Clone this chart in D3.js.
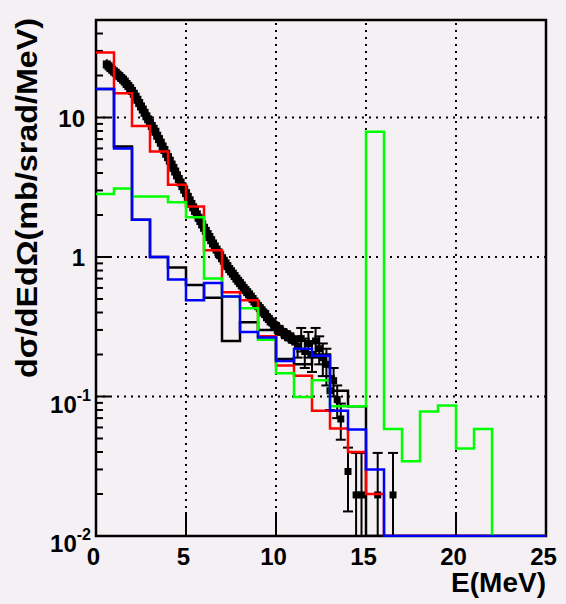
<!DOCTYPE html>
<html>
<head>
<meta charset="utf-8">
<script src="https://cdn.jsdelivr.net/npm/d3@7"></script>
<style>
  html, body { margin: 0; padding: 0; background: #f4f0f4; }
  svg { display: block; }
  text { font-family: "Liberation Sans", Arial, Helvetica, sans-serif; font-weight: bold; fill: #000; }
</style>
</head>
<body>
<svg id="chart" width="566" height="604"></svg>
<script>
// Histogram bin edges: 0..25 MeV in 1 MeV bins
const binEdges = d3.range(0, 26, 1);

// Model histograms, one value per 1 MeV bin (0 = empty bin)
const histBlack = [16.0, 6.2, 1.85, 1.0, 0.84, 0.63, 0.51, 0.25, 0.34, 0.30, 0.186, 0.17, 0.20, 0.11, 0.085, 0, 0, 0, 0, 0, 0, 0, 0, 0, 0];
const histRed   = [29.3, 14.9, 8.7, 5.7, 3.3, 2.3, 1.12, 0.56, 0.49, 0.27, 0.167, 0.141, 0.079, 0.059, 0.040, 0.020, 0, 0, 0, 0, 0, 0, 0, 0, 0];
const histGreen = [2.83, 3.1, 2.72, 2.72, 2.47, 1.93, 0.70, 0.52, 0.43, 0.255, 0.147, 0.099, 0.131, 0.085, 0.085, 7.9, 0.0586, 0.0343, 0.078, 0.0863, 0.0424, 0.0586, 0, 0, 0];
const histBlue  = [16.0, 6.0, 1.85, 1.0, 0.69, 0.49, 0.65, 0.52, 0.29, 0.265, 0.18, 0.22, 0.196, 0.079, 0.058, 0.030, 0, 0, 0, 0, 0, 0, 0, 0, 0];

// Measured spectrum: dense part (energy, cross section), relative error
const denseE = [0.6,0.7,0.8,0.9,1.0,1.1,1.2,1.3,1.4,1.5,1.6,1.7,1.8,1.9,2.0,2.1,2.2,2.3,2.4,2.5,2.6,2.7,2.8,2.9,3.0,3.1,3.2,3.3,3.4,3.5,3.6,3.7,3.8,3.9,4.0,4.1,4.2,4.3,4.4,4.5,4.6,4.7,4.8,4.9,5.0,5.1,5.2,5.3,5.4,5.5,5.6,5.7,5.8,5.9,6.0,6.1,6.2,6.3,6.4,6.5,6.6,6.7,6.8,6.9,7.0,7.1,7.2,7.3,7.4,7.5,7.6,7.7,7.8,7.9,8.0,8.1,8.2,8.3,8.4,8.5,8.6,8.7,8.8,8.9,9.0,9.1,9.2,9.3,9.4,9.5,9.6,9.7,9.8,9.9,10.0,10.1,10.2,10.3,10.4,10.5,10.6,10.7,10.8,10.9,11.0];
const denseV = [24.0,23.3,22.6,22.0,21.4,20.9,20.3,19.8,19.2,18.7,18.1,17.4,16.8,16.2,15.5,14.8,14.1,13.4,12.7,12.0,11.4,10.8,10.2,9.7,9.2,8.7,8.3,7.9,7.4,7.0,6.6,6.2,5.85,5.5,5.2,4.9,4.6,4.35,4.1,3.85,3.62,3.42,3.22,3.04,2.87,2.7,2.55,2.4,2.27,2.14,2.02,1.91,1.81,1.71,1.62,1.54,1.46,1.39,1.32,1.25,1.19,1.13,1.08,1.03,0.98,0.94,0.90,0.86,0.82,0.79,0.76,0.73,0.70,0.675,0.65,0.625,0.60,0.58,0.56,0.54,0.52,0.50,0.48,0.46,0.445,0.43,0.415,0.40,0.39,0.37,0.36,0.345,0.34,0.325,0.32,0.30,0.305,0.29,0.29,0.275,0.28,0.265,0.27,0.255,0.255];
const denseRelErr = 0.09;
const denseEErr = 0.2;

// Measured spectrum: high-energy tail with individual errors
const tailE    = [11.2, 11.4, 11.6, 11.8, 12.0, 12.2, 12.4, 12.6, 12.8, 13.0, 13.2, 13.4, 13.6, 14.0, 14.45, 14.75, 15.65, 16.5];
const tailV    = [0.23, 0.26, 0.21, 0.24, 0.20, 0.25, 0.22, 0.19, 0.17, 0.11, 0.13, 0.095, 0.069, 0.029, 0.0197, 0.0197, 0.0197, 0.0197];
const tailErr  = [0.04, 0.05, 0.05, 0.05, 0.05, 0.06, 0.05, 0.05, 0.05, 0.03, 0.03, 0.025, 0.02, 0.014, 0.0197, 0.0197, 0.0197, 0.0197];
const tailEErr = 0.15;

// Axis ticks
const xTicks = [0, 5, 10, 15, 20, 25];
const yMajor = [0.01, 0.1, 1, 10];
const yLabels = [["10", "-2"], ["10", "-1"], ["1", ""], ["10", ""]];

const svg = d3.select("#chart");
const W = 566, H = 604;
const L = 96, R = 546, T = 20, B = 536;

svg.append("rect").attr("width", W).attr("height", H).attr("fill", "#f4f0f4");

const x = d3.scaleLinear().domain([0, 25]).range([L, R]);
const y = d3.scaleLog().domain([0.01, 50]).range([B, T]);
const yc = v => (v > 0.01 ? Math.max(T, y(v)) : B);

// Dotted grid at major ticks
const grid = svg.append("g").attr("stroke", "#000").attr("stroke-width", 2)
  .attr("stroke-dasharray", "2,5").attr("fill", "none");
[5, 10, 15, 20].forEach(v => grid.append("line")
  .attr("x1", x(v)).attr("x2", x(v)).attr("y1", B).attr("y2", T));
[0.1, 1, 10].forEach(v => grid.append("line")
  .attr("x1", L).attr("x2", R).attr("y1", y(v)).attr("y2", y(v)));

// Y axis ticks (inside frame): major + minor per decade
const yt = svg.append("g").attr("stroke", "#000").attr("stroke-width", 2);
const minorVals = [];
[0.01, 0.1, 1, 10].forEach(d => { for (let k = 2; k <= 9; k++) { const v = d * k; if (v <= 50) minorVals.push(v); } });
minorVals.forEach(v => yt.append("line").attr("x1", L).attr("x2", L + 7).attr("y1", y(v)).attr("y2", y(v)));
yMajor.forEach(v => yt.append("line").attr("x1", L).attr("x2", L + 14).attr("y1", y(v)).attr("y2", y(v)));

// X axis ticks
const xt = svg.append("g").attr("stroke", "#000").attr("stroke-width", 2);
[5, 10, 15, 20].forEach(v => xt.append("line").attr("x1", x(v)).attr("x2", x(v)).attr("y1", B).attr("y2", B - 24));

// Frame
svg.append("rect").attr("x", L).attr("y", T).attr("width", R - L).attr("height", B - T)
  .attr("fill", "none").attr("stroke", "#000").attr("stroke-width", 2.5);

// Clip for data
svg.append("clipPath").attr("id", "plotclip").append("rect")
  .attr("x", L - 1).attr("y", T).attr("width", R - L + 2).attr("height", B - T + 1);
const plot = svg.append("g").attr("clip-path", "url(#plotclip)");

// Data points with error bars
const pts = plot.append("g");
function drawPoint(e, v, dvUp, dvDown, de, caps, size) {
  const cx = x(e), cy = y(v);
  const yTop = yc(v + dvUp);
  const yBot = yc(v - dvDown);
  const g = pts.append("g").attr("stroke", "#000").attr("stroke-width", 2);
  g.append("line").attr("x1", cx).attr("x2", cx).attr("y1", yTop).attr("y2", yBot);
  if (caps) {
    g.append("line").attr("x1", cx - 5).attr("x2", cx + 5).attr("y1", yTop).attr("y2", yTop);
    g.append("line").attr("x1", cx - 5).attr("x2", cx + 5).attr("y1", yBot).attr("y2", yBot);
  }
  if (de > 0) g.append("line").attr("x1", x(e - de)).attr("x2", x(e + de)).attr("y1", cy).attr("y2", cy);
  pts.append("rect").attr("x", cx - size / 2).attr("y", cy - size / 2)
    .attr("width", size).attr("height", size).attr("fill", "#000");
}
denseE.forEach((e, i) => drawPoint(e, denseV[i], denseV[i] * denseRelErr, denseV[i] * denseRelErr, denseEErr, false, 8));
tailE.forEach((e, i) => drawPoint(e, tailV[i], tailErr[i], tailErr[i], tailEErr, true, 7));

// Step histograms
function stepPath(vals) {
  let d = `M${x(binEdges[0])},${yc(vals[0])}`;
  vals.forEach((v, i) => {
    d += `H${x(binEdges[i + 1])}`;
    if (i + 1 < vals.length) d += `V${yc(vals[i + 1])}`;
  });
  return d;
}
[[histBlack, "#000000"], [histRed, "#ff0000"], [histGreen, "#00ff00"], [histBlue, "#0000ff"]]
  .forEach(([vals, col]) => plot.append("path").attr("d", stepPath(vals))
    .attr("fill", "none").attr("stroke", col).attr("stroke-width", 2.5));

// X tick labels
xTicks.forEach(v => svg.append("text").attr("x", x(v) - 2.5).attr("y", 565)
  .attr("text-anchor", "middle").attr("font-size", 24).text(v));

// Y tick labels
yMajor.forEach((v, i) => {
  const [base, sup] = yLabels[i];
  const t = svg.append("text").attr("text-anchor", "end").attr("font-size", 24);
  if (sup) {
    t.attr("x", 91).attr("y", y(v) + 16);
    t.append("tspan").text(base);
    t.append("tspan").attr("font-size", 16).attr("dy", -12).text(sup);
  } else {
    t.attr("x", 85).attr("y", y(v) + 9).text(base);
  }
});

// Axis titles
svg.append("text").attr("x", 546).attr("y", 592).attr("text-anchor", "end")
  .attr("font-size", 28).text("E(MeV)");
svg.append("text").attr("transform", "translate(37,18) rotate(-90)")
  .attr("text-anchor", "end").attr("font-size", 30)
  .attr("textLength", 360).attr("lengthAdjust", "spacingAndGlyphs")
  .text("dσ/dEdΩ(mb/srad/MeV)");
</script>
</body>
</html>
